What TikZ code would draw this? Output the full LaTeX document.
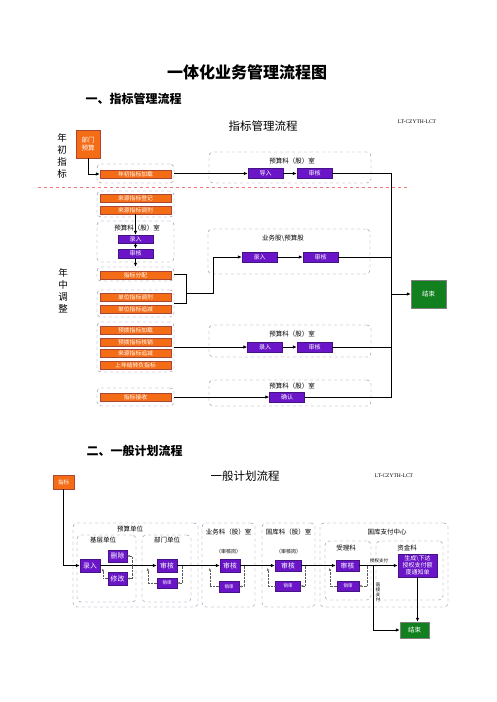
\documentclass[tikz,border=0pt]{standalone}
\usepackage{fontspec}
\setmainfont{Liberation Serif}
\newfontfamily\cjk{Noto Sans CJK SC}
\usetikzlibrary{arrows.meta}
\usetikzlibrary{calc}
\definecolor{orng}{RGB}{245,108,22}
\definecolor{orngline}{RGB}{170,70,50}
\definecolor{purp}{RGB}{106,22,200}
\definecolor{purpline}{RGB}{70,20,130}
\definecolor{grn}{RGB}{18,128,30}
\definecolor{grpline}{RGB}{128,128,160}
\definecolor{sepline}{RGB}{236,120,120}

\begin{document}
\begin{tikzpicture}[x=1pt, y=-1pt, font=\cjk,
	bar/.style={draw=orngline, fill=orng, text=white, inner sep=0pt, minimum width=71, minimum height=8, font=\cjk\fontsize{5.8}{6}\selectfont},
	pbox/.style={draw=purpline, fill=purp, text=white, inner sep=0pt, minimum width=35, minimum height=10, font=\cjk\fontsize{6}{7}\selectfont},
	endbox/.style={draw=gray, fill=grn, text=white, inner sep=0pt, font=\cjk\fontsize{6.5}{7}\selectfont},
	grp/.style={draw=grpline, dashed, rounded corners=4, inner sep=0pt},
	lab/.style={font=\cjk\fontsize{6.5}{7}\selectfont},
	arr/.style={-{Latex[length=4pt,width=3.5pt]}, line width=0.8pt},
	dl/.style={densely dotted, gray!70!black, -{Latex[length=2.5pt,width=2.2pt]}}]
	\useasboundingbox (0,0) rectangle (496,702);

	\node[font=\cjk\bfseries\fontsize{16}{18}\selectfont] (title) at (247,72) {一体化业务管理流程图};
	\node[anchor=west, font=\cjk\bfseries\fontsize{12}{14}\selectfont] (h1) at (82,99) {一、指标管理流程};
	\node[font=\cjk\fontsize{11.5}{13}\selectfont] (t1) at (263,126) {指标管理流程};
	\node[font=\rmfamily\fontsize{5.5}{6}\selectfont] (c1) at (417,122) {LT-CZYTH-LCT};
	\node[font=\cjk\fontsize{9.5}{12}\selectfont, align=center] (nc) at (62,155.5) {年\\初\\指\\标};
	\node[font=\cjk\fontsize{9.5}{12}\selectfont, align=center] (nz) at (63,291) {年\\中\\调\\整};

	\begin{scope}[every node/.style={grp}]
		\node[minimum width=77, minimum height=19] (g0) at (135.5,173.5) {};
		\node[minimum width=162, minimum height=31] (g1) at (290,167.5) {};
		\node[minimum width=77, minimum height=26] (gA) at (135.5,204) {};
		\node[minimum width=77, minimum height=41] (gB) at (135.5,241.5) {};
		\node[minimum width=77, minimum height=14] (gC) at (135.5,274) {};
		\node[minimum width=77, minimum height=27] (gD) at (135.5,303.5) {};
		\node[minimum width=162, minimum height=45] (gE) at (289,251.5) {};
		\node[minimum width=77, minimum height=50] (gF) at (135.5,347) {};
		\node[minimum width=162, minimum height=32] (gG) at (290,341) {};
		\node[minimum width=77, minimum height=18] (gH) at (135.5,397) {};
		\node[minimum width=162, minimum height=26] (gI) at (290,393) {};
	\end{scope}
	\draw[sepline, dashed] (38,187) -- (407,187);

	\node[draw=orngline, fill=orng, text=white, minimum width=24, minimum height=28, inner sep=0pt, align=center, font=\cjk\fontsize{6.5}{8}\selectfont] (bm) at (88,144) {部门\\预算};
	\begin{scope}[every node/.style={bar}]
		\node (n0) at (135.5,174) {年初指标加载};
		\node (n1) at (135.5,198) {来源指标登记};
		\node (n2) at (135.5,210) {来源指标调剂};
		\node (n3) at (135.5,275) {指标分配};
		\node (n4) at (135.5,297) {单位指标调剂};
		\node (n5) at (135.5,309) {单位指标追减};
		\node (n6) at (135.5,330) {预拨指标加载};
		\node (n7) at (135.5,342) {预拨指标核销};
		\node (n8) at (135.5,353.5) {来源指标追减};
		\node (n9) at (135.5,365) {上年结转负指标};
		\node (n10) at (135.5,397) {指标接收};
	\end{scope}
	\node[lab] (l1) at (292,161) {预算科（股）室};
	\node[lab] (l2) at (137,228) {预算科（股）室};
	\node[lab] (l3) at (283,238) {业务股\textbackslash 预算股};
	\node[lab] (l4) at (292,334) {预算科（股）室};
	\node[lab] (l5) at (292,386) {预算科（股）室};
	\begin{scope}[every node/.style={pbox}]
		\node (dr) at (265.5,173.5) {导入};
		\node (sh0) at (314.5,173.5) {审核};
		\node[minimum height=8] (lr1) at (135.5,239) {录入};
		\node[minimum height=9] (sh1) at (135.5,253.5) {审核};
		\node (lr2) at (259.5,257) {录入};
		\node (sh2) at (320.5,257) {审核};
		\node (lr3) at (265,347) {录入};
		\node (sh3) at (314.5,347) {审核};
		\node (qr) at (287,397) {确认};
	\end{scope}
	\node[endbox, minimum width=35, minimum height=28] (js1) at (428.5,294) {结束};

	\draw[arr] (bm.south) |- (n0.west);
	\draw[arr] (g0.east) -- (dr.west);
	\draw[arr] (dr) -- (sh0);
	\draw[arr] (n2.south) -- (lr1.north);
	\draw[arr] (lr1) -- (sh1);
	\draw[arr] (sh1.south) -- (gC.north);
	\draw[line width=0.8pt] (gC.east) -- ++(12,0) |- (gD.east);
	\coordinate (mg) at (186,293);
	\draw[arr] (mg) -- (213,293) |- (lr2.west);
	\draw[arr] (lr2) -- (sh2);
	\draw[arr] (gF.east) -- (lr3.west);
	\draw[arr] (lr3) -- (sh3);
	\draw[arr] (gH.east) -- (qr.west);
	\coordinate (tt) at (391,173.5);
	\draw[line width=0.8pt] (sh0.east) -- (tt) |- (qr.east);
	\draw[line width=0.8pt] (sh2.east) -- (sh2.east -| tt);
	\draw[line width=0.8pt] (sh3.east) -- (sh3.east -| tt);
	\draw[arr] (js1.west -| tt) -- (js1.west);

	\node[anchor=west, font=\cjk\bfseries\fontsize{12}{14}\selectfont] (h2) at (83,451) {二、一般计划流程};
	\node[font=\cjk\fontsize{11.5}{13}\selectfont] (t2) at (245,476) {一般计划流程};
	\node[font=\rmfamily\fontsize{5.5}{6}\selectfont] (c2) at (394,476) {LT-CZYTH-LCT};
	\node[draw=orngline, fill=orng, text=white, minimum width=21, minimum height=14, inner sep=0pt, font=\cjk\fontsize{5.5}{6}\selectfont] (zb) at (63.5,482) {指标};

	\begin{scope}[every node/.style={grp}]
		\node[minimum width=125, minimum height=84] (gJ) at (135.5,565) {};
		\node[minimum width=59, minimum height=67] (gK) at (106.5,568.5) {};
		\node[minimum width=49, minimum height=67] (gL) at (166.5,568.5) {};
		\node[minimum width=53, minimum height=84] (gM) at (228.5,565) {};
		\node[minimum width=53, minimum height=84] (gN) at (288.5,565) {};
		\node[minimum width=128, minimum height=84] (gO) at (384,565) {};
		\node[minimum width=46, minimum height=59] (gP) at (348,570.5) {};
		\node[minimum width=67, minimum height=59] (gQ) at (409.5,570.5) {};
	\end{scope}
	\node[lab] (l6) at (130,529) {预算单位};
	\node[lab] (l7) at (103,540) {基层单位};
	\node[lab] (l8) at (167,540) {部门单位};
	\node[lab] (l9) at (228.5,532) {业务科（股）室};
	\node[lab, font=\cjk\fontsize{5}{6}\selectfont] (l10) at (228.5,552) {（审核岗）};
	\node[lab] (l11) at (288.5,532) {国库科（股）室};
	\node[lab, font=\cjk\fontsize{5}{6}\selectfont] (l12) at (288.5,552) {（审核岗）};
	\node[lab] (l13) at (387,532) {国库支付中心};
	\node[lab] (l14) at (346,548) {受理科};
	\node[lab] (l15) at (407,548) {资金科};

	\begin{scope}[every node/.style={pbox, font=\cjk\fontsize{6.8}{7}\selectfont}]
		\node[minimum width=20, minimum height=13] (lrA) at (90,565.5) {录入};
		\node[minimum width=19, minimum height=12] (scA) at (117.5,556) {删除};
		\node[minimum width=19, minimum height=13] (xgA) at (117.5,578.5) {修改};
		\node[minimum width=20, minimum height=13] (shB) at (167,565.5) {审核};
		\node[minimum width=20, minimum height=13] (shC) at (230,565.5) {审核};
		\node[minimum width=26, minimum height=11] (shD) at (288,565.5) {审核};
		\node[minimum width=23, minimum height=11] (shE) at (347.5,565.5) {审核};
	\end{scope}
	\begin{scope}[every node/.style={pbox, font=\cjk\fontsize{4.5}{5}\selectfont}]
		\node[minimum width=20, minimum height=10] (xsB) at (167,583) {销审};
		\node[minimum width=20, minimum height=11] (xsC) at (229,586.5) {销审};
		\node[minimum width=25, minimum height=10] (xsD) at (288,586) {销审};
		\node[minimum width=22, minimum height=10] (xsE) at (348,586) {销审};
	\end{scope}
	\node[pbox, minimum width=39, minimum height=23, align=center, font=\cjk\fontsize{6}{7}\selectfont] (tz) at (417.5,565.5) {生成\textbackslash 下达\\授权支付额\\度通知单};
	\node[endbox, minimum width=29, minimum height=16] (js2) at (414.5,630) {结束};
	\node[font=\cjk\fontsize{4.5}{5}\selectfont] (sq) at (379,561) {授权支付};
	\node[font=\cjk\fontsize{4.5}{5}\selectfont, align=center] (zj) at (378,592.5) {直\\接\\支\\付};

	\draw[arr] (zb.south) |- (lrA.west);
	\draw[arr] (lrA) -- (shB);
	\draw[arr] (shB) -- (shC);
	\draw[arr] (shC) -- (shD);
	\draw[arr] (shD) -- (shE);
	\draw[arr] (shE) -- (tz);
	\coordinate (kA) at (132,565.5);
	\draw[dl] (kA) |- (scA.east);
	\draw[dl] (kA) |- (xgA.east);
	\draw[dl] (xgA.west) -- ++(-5,0) -- ++(0,-10);
	\draw[dl] (shB.east) ++(5,0) |- (xsB.east);
	\draw[dl] (xsB.west) -- ++(-9,0) -- ++(0,-15);
	\draw[dl] (shC.east) ++(4,0) |- (xsC.east);
	\draw[dl] (xsC.west) -- ++(-9,0) -- ++(0,-18.5);
	\draw[dl] (shD.east) ++(4,0) |- (xsD.east);
	\draw[dl] (xsD.west) -- ++(-7.5,0) -- ++(0,-18);
	\draw[dl] (shE.east) ++(8,0) |- (xsE.east);
	\draw[dl] (xsE.west) -- ++(-7,0) -- ++(0,-18);
	\coordinate (zf) at (373,565.5);
	\draw[arr] (zf) |- (js2.west);
	\draw[arr] (tz.south) -- (tz.south |- js2.north);
\end{tikzpicture}
\end{document}
